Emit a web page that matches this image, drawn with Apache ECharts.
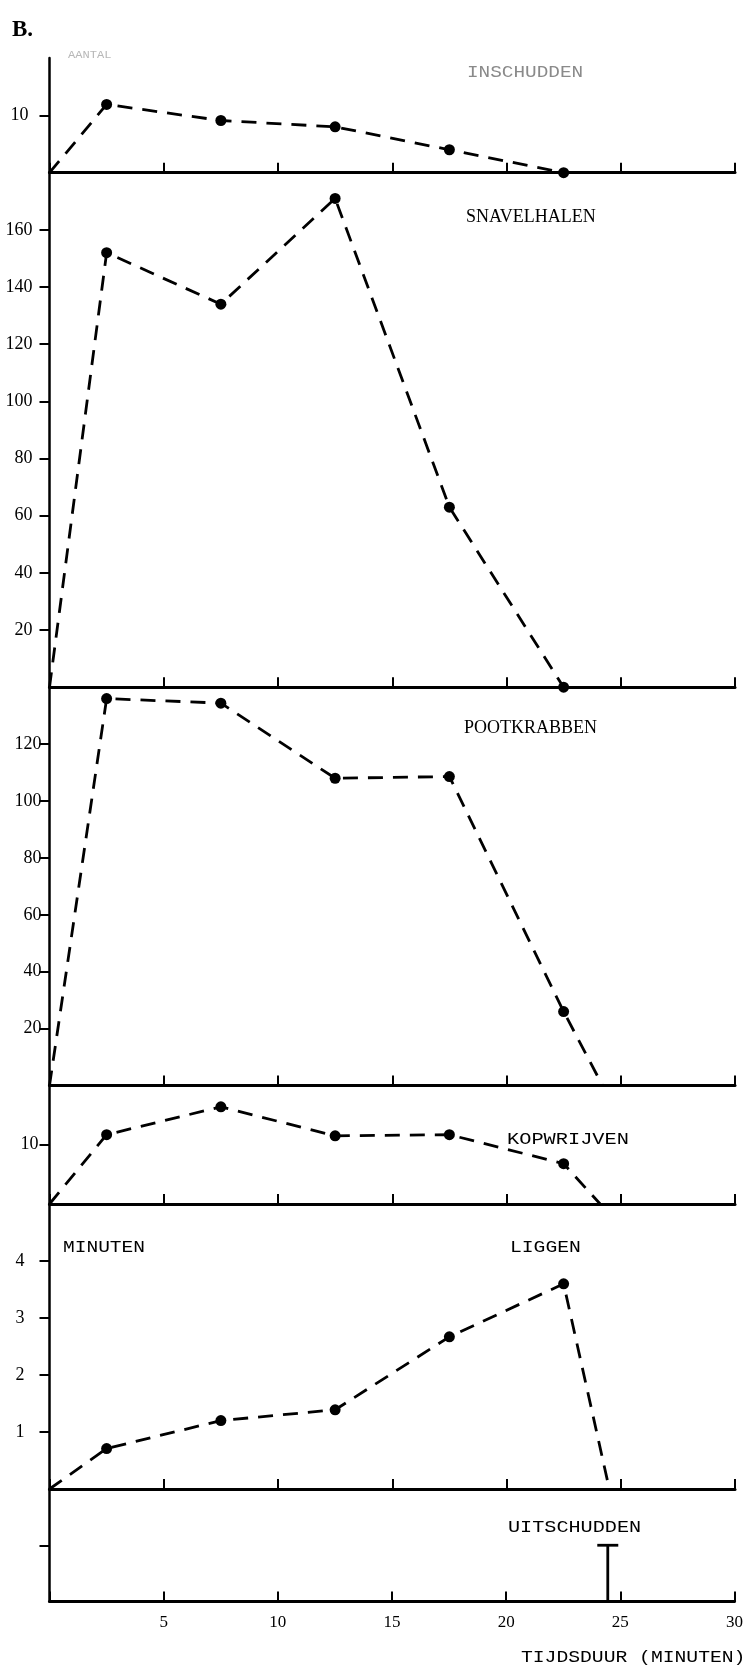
<!DOCTYPE html>
<html>
<head>
<meta charset="utf-8">
<script src="https://cdn.jsdelivr.net/npm/echarts@6/dist/echarts.min.js"></script>
<style>
  html, body { margin: 0; padding: 0; background: #fff; }
  #chart { width: 746px; height: 1668px; }
</style>
</head>
<body>
<div id="chart"></div>
<script>
// Time axis (minutes) shared by all panels
const xMax = 30;
const xStep = 5;
const minutes = [2.5, 7.5, 12.5, 17.5, 22.5];

// Counts per 5-minute interval
const inschudden = [11.9, 9.1, 8.0, 4.0, 0];
const snavelhalen = [152, 134, 171, 63, 0];
const pootkrabben = [136, 134.4, 108, 108.6, 26];
const kopwrijven = [11.7, 16.4, 11.5, 11.7, 6.8];
// Minutes spent lying down per interval
const liggen = [0.71, 1.2, 1.39, 2.67, 3.6];
// Moment (minute) of the single shake-off event and its level
const uitschuddenAt = [24.45];
const uitschuddenLevel = [1];

// Where each behaviour line returns to zero (null = ends at last point)
const lineEnds = [null, null, 24.2, 24.1, 24.5];

// Y axis ranges and tick labels per panel
const yMaxes = [20, 180, 140, 20, 5, 2];
const yTicks = [
  [10],
  [20, 40, 60, 80, 100, 120, 140, 160],
  [20, 40, 60, 80, 100, 120],
  [10],
  [1, 2, 3, 4],
  [1]
];
const xTicks = [0, 5, 10, 15, 20, 25, 30];

const seriesValues = [inschudden, snavelhalen, pootkrabben, kopwrijven, liggen];

// Panel geometry (pixels)
const panels = [
  { top: 58, height: 114.7, labelMargin: 21, raise: 0 },
  { top: 172.7, height: 514.5, labelMargin: 17, raise: 0 },
  { top: 687.2, height: 398.3, labelMargin: 8, raise: 10 },
  { top: 1085.5, height: 118.5, labelMargin: 11, raise: 4 },
  { top: 1204, height: 285, labelMargin: 25, raise: 0 },
  { top: 1489, height: 112.5, labelMargin: 20, raise: 0 }
];

const SERIF = '"Liberation Serif", "DejaVu Serif", serif';
const MONO = '"Liberation Mono", "DejaVu Sans Mono", monospace';

const grid = panels.map(p => ({ left: 49.5, right: 11, top: p.top, height: p.height }));

const xAxis = panels.map((p, i) => ({
  type: 'value',
  gridIndex: i,
  min: 0,
  max: xMax,
  interval: xStep,
  position: 'bottom',
  axisLine: { show: true, onZero: false, lineStyle: { color: '#000', width: 3 } },
  axisTick: { show: true, inside: true, length: 10, lineStyle: { color: '#000', width: 2 } },
  axisLabel: {
    show: i === panels.length - 1,
    customValues: xTicks.slice(1),
    margin: 13,
    color: '#000',
    fontFamily: SERIF,
    fontSize: 17
  },
  splitLine: { show: false }
}));

const yAxis = panels.map((p, i) => ({
  type: 'value',
  gridIndex: i,
  min: 0,
  max: yMaxes[i],
  axisLine: { show: true, onZero: false, lineStyle: { color: '#000', width: 2.5 } },
  axisTick: { show: true, inside: false, length: 10, customValues: yTicks[i], lineStyle: { color: '#000', width: 2 } },
  axisLabel: {
    show: i !== panels.length - 1,
    customValues: yTicks[i],
    margin: p.labelMargin,
    color: '#000',
    fontFamily: SERIF,
    fontSize: 18,
    padding: [0, 0, p.raise, 0]
  },
  splitLine: { show: false }
}));

function buildLine(values, endAt) {
  const data = [{ value: [0, 0], symbol: 'none' }];
  minutes.forEach((m, k) => data.push([m, values[k]]));
  if (endAt !== null) data.push({ value: [endAt, 0], symbol: 'none' });
  return data;
}

const series = seriesValues.map((vals, i) => ({
  type: 'line',
  xAxisIndex: i,
  yAxisIndex: i,
  data: buildLine(vals, lineEnds[i]),
  symbol: 'circle',
  symbolSize: 11,
  showSymbol: true,
  showAllSymbol: true,
  clip: false,
  itemStyle: { color: '#000' },
  lineStyle: { color: '#000', width: 2.8, type: [15, 10] },
  silent: true
}));

// Shake-off event drawn as an I-shaped marker on the bottom panel
series.push({
  type: 'custom',
  xAxisIndex: 5,
  yAxisIndex: 5,
  data: uitschuddenAt.map((t, k) => [t, uitschuddenLevel[k]]),
  encode: { x: 0, y: 1 },
  clip: false,
  silent: true,
  renderItem: function (params, api) {
    const top = api.coord([api.value(0), api.value(1)]);
    const base = api.coord([api.value(0), 0]);
    return {
      type: 'group',
      children: [
        { type: 'line', shape: { x1: top[0], y1: top[1], x2: base[0], y2: base[1] }, style: { stroke: '#000', lineWidth: 2.8 } },
        { type: 'line', shape: { x1: top[0] - 10.5, y1: top[1], x2: top[0] + 10.5, y2: top[1] }, style: { stroke: '#000', lineWidth: 2.8 } }
      ]
    };
  }
});

function text(str, x, y, font, scaleX, fill) {
  return {
    type: 'text',
    x: x,
    y: y,
    scaleX: scaleX,
    silent: true,
    style: {
      text: str,
      font: font,
      fill: fill || '#000',
      textAlign: 'left',
      textVerticalAlign: 'middle'
    }
  };
}

const graphic = [
  text('B.', 12, 30, 'bold 23px ' + SERIF, 1),
  text('AANTAL', 68, 55, '11px ' + MONO, 1.1, '#b8b8b8'),
  text('INSCHUDDEN', 467, 73, '16px ' + MONO, 1.21, '#8a8a8a'),
  text('SNAVELHALEN', 466, 217, '18px ' + SERIF, 1),
  text('POOTKRABBEN', 464, 728, '18px ' + SERIF, 1),
  text('KOPWRIJVEN', 507, 1140, '16px ' + MONO, 1.27),
  text('MINUTEN', 63, 1248, '16px ' + MONO, 1.22),
  text('LIGGEN', 510, 1248, '16px ' + MONO, 1.23),
  text('UITSCHUDDEN', 508, 1528, '16px ' + MONO, 1.26),
  text('TIJDSDUUR (MINUTEN)', 521, 1658, '16px ' + MONO, 1.23)
];

const chart = echarts.init(document.getElementById('chart'), null, { renderer: 'canvas' });
chart.setOption({
  animation: false,
  backgroundColor: '#fff',
  grid: grid,
  xAxis: xAxis,
  yAxis: yAxis,
  series: series,
  graphic: graphic
});
</script>
</body>
</html>
